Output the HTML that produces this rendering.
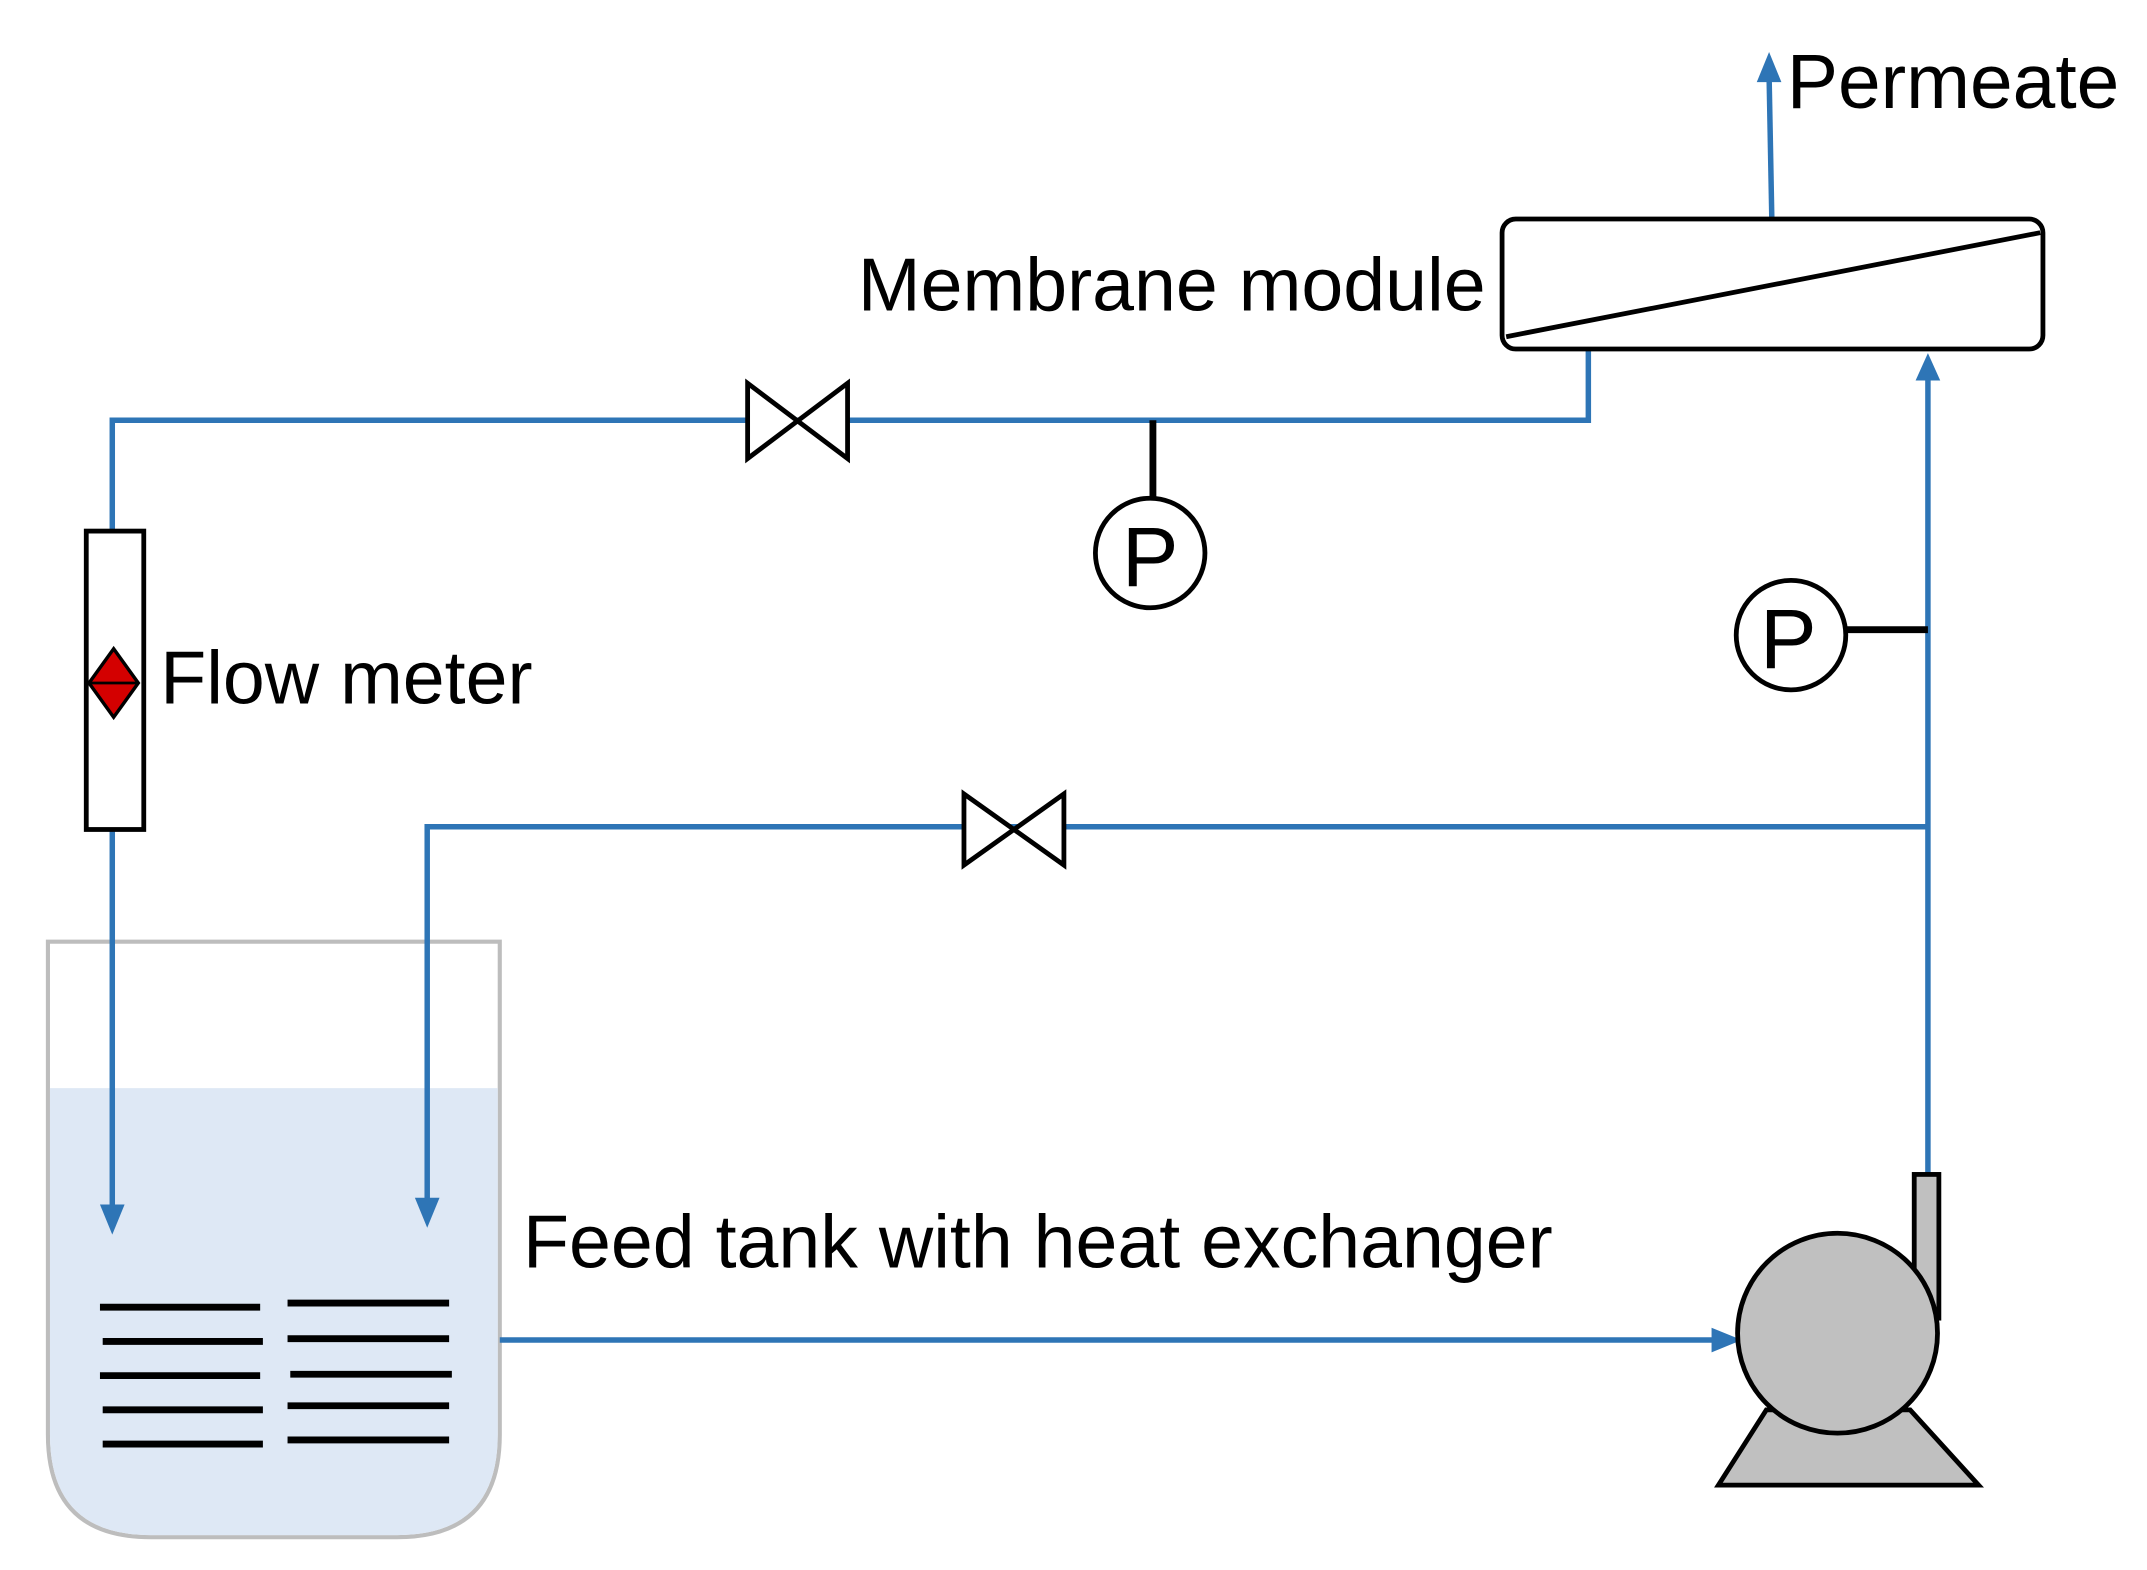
<!DOCTYPE html>
<html><head><meta charset="utf-8"><style>
html,body{margin:0;padding:0;background:#fff;}
svg{display:block;}
text{font-family:"Liberation Sans",Arial,sans-serif;fill:#000;}
</style></head><body>
<svg width="2147" height="1570" viewBox="0 0 1568 1147" preserveAspectRatio="none" xmlns="http://www.w3.org/2000/svg">
<!-- tank -->
<path d="M35,688 L365,688 L365,1048 Q365,1123 290,1123 L110,1123 Q35,1123 35,1048 Z" fill="#fff" stroke="#bdbdbd" stroke-width="3"/>
<path d="M36.5,795 L363.5,795 L363.5,1048 Q363.5,1121.5 290,1121.5 L110,1121.5 Q36.5,1121.5 36.5,1048 Z" fill="#dee8f5"/>
<!-- coils -->
<g stroke="#000" stroke-width="5">
<line x1="73" y1="955" x2="190" y2="955"/><line x1="75" y1="980" x2="192" y2="980"/><line x1="73" y1="1005" x2="190" y2="1005"/><line x1="75" y1="1030" x2="192" y2="1030"/><line x1="75" y1="1055" x2="192" y2="1055"/>
<line x1="210" y1="952" x2="328" y2="952"/><line x1="210" y1="978" x2="328" y2="978"/><line x1="212" y1="1004" x2="330" y2="1004"/><line x1="210" y1="1027" x2="328" y2="1027"/><line x1="210" y1="1052" x2="328" y2="1052"/>
</g>
<!-- blue lines -->
<g stroke="#2e75b6" stroke-width="4" fill="none">
<polyline points="1160,255 1160,307 82,307 82,388"/>
<line x1="82" y1="606" x2="82" y2="885"/>
<polyline points="1408,604 312,604 312,880"/>
<line x1="1408" y1="858" x2="1408" y2="275"/>
<line x1="365" y1="979" x2="1252" y2="979"/>
<line x1="1294" y1="160" x2="1292" y2="55"/>
</g>
<g fill="#2e75b6">
<polygon points="73,880 91,880 82,902"/>
<polygon points="303,875 321,875 312,897"/>
<polygon points="1399,278 1417,278 1408,258"/>
<polygon points="1250,970 1250,988 1272,979"/>
<polygon points="1283,60 1301,60 1292,38"/>
</g>
<!-- membrane module -->
<rect x="1097" y="160" width="395" height="95" rx="10" fill="#fff" stroke="#000" stroke-width="3.5"/>
<line x1="1100" y1="246" x2="1490" y2="170" stroke="#000" stroke-width="3.5"/>
<!-- valves -->
<polygon points="546,280 619,335 619,280 546,335" fill="#fff" stroke="#000" stroke-width="3.5"/>
<polygon points="704,580 777,632 777,580 704,632" fill="#fff" stroke="#000" stroke-width="3.5"/>
<!-- gauges -->
<line x1="842" y1="307" x2="842" y2="366" stroke="#000" stroke-width="5"/>
<circle cx="840" cy="404" r="40" fill="#fff" stroke="#000" stroke-width="3.5"/>
<text x="840" y="428" font-size="62" text-anchor="middle">P</text>
<line x1="1348" y1="460" x2="1408" y2="460" stroke="#000" stroke-width="5"/>
<circle cx="1308" cy="464" r="40" fill="#fff" stroke="#000" stroke-width="3.5"/>
<text x="1306" y="488" font-size="62" text-anchor="middle">P</text>
<!-- flow meter -->
<rect x="63" y="388" width="42" height="218" fill="#fff" stroke="#000" stroke-width="3.5"/>
<polygon points="83,474 101,499 83,524 65,499" fill="#d40000" stroke="#000" stroke-width="2.5"/>
<line x1="66" y1="499" x2="100" y2="499" stroke="#000" stroke-width="2"/>
<!-- pump -->
<polygon points="1290,1030 1395,1030 1445,1085 1255,1085" fill="#c0c0c0" stroke="#000" stroke-width="3.5"/>
<rect x="1398" y="858" width="18" height="105" fill="#c0c0c0" stroke="#000" stroke-width="3.5"/>
<circle cx="1342" cy="974" r="73" fill="#c0c0c0" stroke="#000" stroke-width="3.5"/>
<!-- labels -->
<text x="1305" y="79" font-size="56">Permeate</text>
<text x="1085" y="227" font-size="55" text-anchor="end">Membrane module</text>
<text x="117" y="514" font-size="55">Flow meter</text>
<text x="382" y="926" font-size="55">Feed tank with heat exchanger</text>
</svg>
</body></html>
